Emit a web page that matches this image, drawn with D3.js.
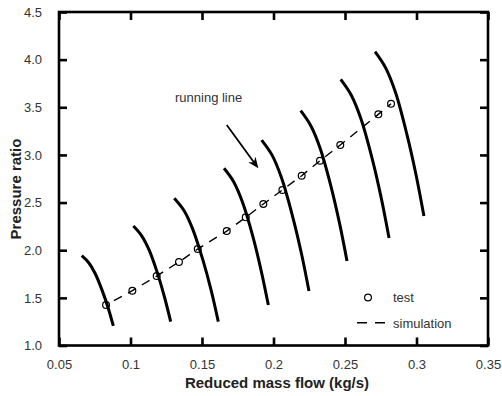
<!DOCTYPE html>
<html><head><meta charset="utf-8">
<script src="https://cdn.jsdelivr.net/npm/d3@7"></script>
<style>
body{margin:0;background:#fff;}
text{font-family:Arial,"Liberation Sans",Helvetica,sans-serif;}
</style></head>
<body>
<svg id="c" width="502" height="396"></svg>
<script>
// ---- data ----
const xTicks = [0.05,0.1,0.15,0.2,0.25,0.3,0.35];
const xTickLabels = ["0.05","0.1","0.15","0.2","0.25","0.3","0.35"];
const yTicks = [1.0,1.5,2.0,2.5,3.0,3.5,4.0,4.5];
const yTickLabels = ["1.0","1.5","2.0","2.5","3.0","3.5","4.0","4.5"];

// speed lines (each: x values, y values)
const speed1X = [0.0659,0.0708,0.0752,0.0803,0.0845,0.0880];
const speed1Y = [1.942,1.868,1.758,1.573,1.389,1.205];
const speed2X = [0.1020,0.1077,0.1130,0.1190,0.1239,0.1281];
const speed2Y = [2.254,2.154,2.003,1.752,1.501,1.250];
const speed3X = [0.1306,0.1374,0.1435,0.1506,0.1565,0.1614];
const speed3Y = [2.545,2.416,2.221,1.898,1.574,1.250];
const speed4X = [0.1654,0.1722,0.1784,0.1856,0.1914,0.1964];
const speed4Y = [2.860,2.717,2.501,2.143,1.784,1.425];
const speed5X = [0.1917,0.1990,0.2056,0.2132,0.2195,0.2248];
const speed5Y = [3.156,2.998,2.760,2.364,1.968,1.572];
const speed6X = [0.2190,0.2261,0.2326,0.2401,0.2462,0.2514];
const speed6Y = [3.464,3.306,3.070,2.676,2.281,1.887];
const speed7X = [0.2470,0.2544,0.2612,0.2690,0.2754,0.2808];
const speed7Y = [3.793,3.627,3.377,2.961,2.544,2.128];
const speed8X = [0.2710,0.2785,0.2854,0.2932,0.2997,0.3052];
const speed8Y = [4.083,3.911,3.652,3.221,2.790,2.359];

const testX = [0.0829,0.1013,0.1183,0.1339,0.1470,0.1673,0.1806,0.1929,0.2062,0.2197,0.2325,0.2467,0.2733,0.2822];
const testY = [1.425,1.575,1.729,1.876,2.013,2.201,2.345,2.485,2.632,2.782,2.939,3.104,3.426,3.537];

const simX = [0.0829,0.1013,0.1183,0.1339,0.1470,0.1673,0.1806,0.1929,0.2062,0.2197,0.2325,0.2467,0.2733,0.2822];
const simY = [1.425,1.575,1.729,1.876,2.013,2.201,2.345,2.485,2.632,2.782,2.939,3.104,3.426,3.537];

// ---- layout ----
const svg = d3.select("#c");
const L = 59, T = 12, R = 488, B = 345.5;
const x = d3.scaleLinear().domain([0.05,0.35]).range([L,R]);
const y = d3.scaleLinear().domain([1.0,4.5]).range([B,T]);

// test circles (drawn under lines)
const testPts = testX.map((v,i)=>[v,testY[i]]);
svg.append("g").selectAll("circle").data(testPts).join("circle")
  .attr("cx",d=>x(d[0])).attr("cy",d=>y(d[1])).attr("r",3.4)
  .attr("fill","#fff").attr("stroke","#000").attr("stroke-width",1.2);

// speed lines
const line = d3.line().x(d=>x(d[0])).y(d=>y(d[1])).curve(d3.curveCatmullRom.alpha(0.5));
const speeds = [[speed1X,speed1Y],[speed2X,speed2Y],[speed3X,speed3Y],[speed4X,speed4Y],
                [speed5X,speed5Y],[speed6X,speed6Y],[speed7X,speed7Y],[speed8X,speed8Y]];
svg.append("g").selectAll("path").data(speeds).join("path")
  .attr("d",s=>line(s[0].map((v,i)=>[v,s[1][i]])))
  .attr("fill","none").attr("stroke","#000").attr("stroke-width",3).attr("stroke-linecap","butt");

// simulation dashed line
const simPts = simX.map((v,i)=>[v,simY[i]]);
svg.append("path").attr("d",d3.line().x(d=>x(d[0])).y(d=>y(d[1])).curve(d3.curveLinear)(simPts))
  .attr("fill","none").attr("stroke","#000").attr("stroke-width",1.4)
  .attr("stroke-dasharray","9,7").attr("stroke-dashoffset",-9);

// axes (inward ticks, all four sides)
const tk = 8;
const axB = d3.axisBottom(x).tickValues(xTicks).tickSize(-tk).tickFormat((d,i)=>xTickLabels[i]).tickPadding(14);
const axT = d3.axisTop(x).tickValues(xTicks).tickSize(-tk).tickFormat("");
const axL = d3.axisLeft(y).tickValues(yTicks).tickSize(-tk).tickFormat((d,i)=>yTickLabels[i]).tickPadding(17);
const axR = d3.axisRight(y).tickValues(yTicks).tickSize(-tk).tickFormat("");
function style(g){
  g.select(".domain").remove();
  g.selectAll(".tick line").attr("stroke","#000").attr("stroke-width",2.6);
  g.selectAll(".tick text").attr("fill","#333").style("font-size","13px").style("font-family","Arial, 'Liberation Sans', sans-serif");
}
svg.append("g").attr("transform",`translate(0,${B})`).call(axB).call(style);
svg.append("g").attr("transform",`translate(0,${T})`).call(axT).call(style);
svg.append("g").attr("transform",`translate(${L},0)`).call(axL).call(style);
svg.append("g").attr("transform",`translate(${R},0)`).call(axR).call(style);

// frame
svg.append("rect").attr("x",L).attr("y",T).attr("width",R-L).attr("height",B-T)
  .attr("fill","none").attr("stroke","#000").attr("stroke-width",2.6);

// axis titles
svg.append("text").attr("x",277).attr("y",388).attr("text-anchor","middle")
  .style("font-size","15px").style("font-weight","bold").attr("fill","#222")
  .text("Reduced mass flow (kg/s)");
svg.append("text").attr("transform","translate(21,189) rotate(-90)").attr("text-anchor","middle")
  .style("font-size","15px").style("font-weight","bold").attr("fill","#222")
  .text("Pressure ratio");

// annotation
svg.append("text").attr("x",175).attr("y",102).style("font-size","13px").attr("fill","#333").text("running line");
const a0 = [0.1673,3.314], a1 = [0.1894,2.859];
const x0 = x(a0[0]), y0 = y(a0[1]), x1 = x(a1[0]), y1 = y(a1[1]);
const ang = Math.atan2(y1-y0,x1-x0);
const hl = 11, hw = 4.5;
svg.append("line").attr("x1",x0).attr("y1",y0).attr("x2",x1-Math.cos(ang)*6).attr("y2",y1-Math.sin(ang)*6)
  .attr("stroke","#000").attr("stroke-width",1.8);
const bx = x1-Math.cos(ang)*hl, by = y1-Math.sin(ang)*hl;
const nx = -Math.sin(ang), ny = Math.cos(ang);
const nxx = x1-Math.cos(ang)*hl*0.7, nyy = y1-Math.sin(ang)*hl*0.7;
svg.append("path").attr("d",`M${x1},${y1}L${bx+nx*hw},${by+ny*hw}L${nxx},${nyy}L${bx-nx*hw},${by-ny*hw}Z`)
  .attr("fill","#000");

// legend
const lg = svg.append("g");
lg.append("circle").attr("cx",368).attr("cy",297.5).attr("r",3.4).attr("fill","#fff").attr("stroke","#000").attr("stroke-width",1.2);
lg.append("text").attr("x",393).attr("y",302).style("font-size","13px").attr("fill","#333").text("test");
lg.append("line").attr("x1",357).attr("x2",388).attr("y1",322.7).attr("y2",322.7)
  .attr("stroke","#000").attr("stroke-width",1.5).attr("stroke-dasharray","10,8");
lg.append("text").attr("x",393).attr("y",327.5).style("font-size","13px").attr("fill","#333").text("simulation");
</script>
</body></html>
